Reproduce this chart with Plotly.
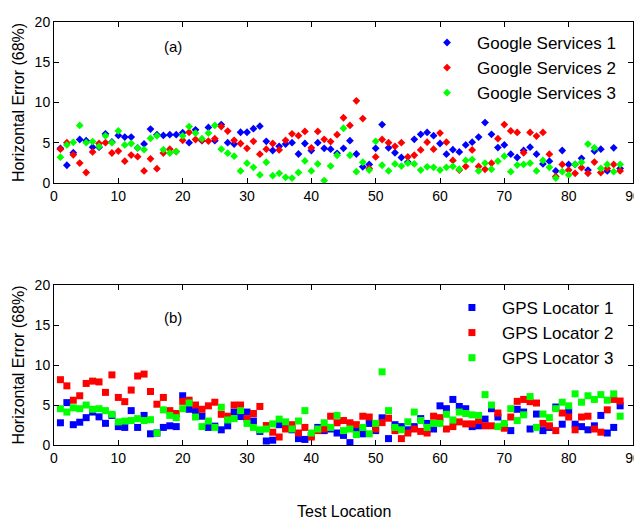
import plotly.graph_objects as go

locations = list(range(1, 89))

google_1 = [4.3, 2.2, 3.75, 5.4, 5.25, 4.45, 4.45, 6.1, 5.1, 5.9,
            5.7, 5.7, 4.35, 4.85, 6.7, 6.0, 5.9, 6.0, 6.0, 6.25,
            5.0, 6.6, 5.25, 6.9, 5.25, 7.25, 5.0, 4.83, 6.3, 6.3,
            6.75, 7.05, 5.17, 4.03, 4.55, 4.83, 5.0, 3.6, 4.9, 4.03,
            5.0, 4.3, 4.2, 3.68, 4.3, 5.25, 3.6, 2.0, 2.3, 4.3,
            7.26, 4.37, 3.75, 3.16, 2.6, 5.42, 6.04, 6.28, 5.87, 4.9,
            3.58, 4.13, 3.85, 4.72, 5.07, 5.7, 7.5, 6.04, 4.4, 4.72,
            3.58, 3.16, 4.03, 4.44, 3.58, 2.36, 2.7, 1.5, 4.03, 2.3,
            2.3, 3.06, 1.6, 3.96, 4.2, 1.5, 4.37, 1.8]
google_2 = [4.2, 5.0, 3.5, 2.47, 1.3, 3.85, 4.9, 5.0, 3.72, 3.96,
            2.7, 3.47, 3.26, 1.5, 3.0, 1.77, 3.72, 4.2, 3.9, 5.3,
            6.3, 5.4, 5.3, 5.2, 5.5, 7.0, 6.45, 5.3, 4.9, 4.3,
            5.17, 3.58, 4.2, 4.9, 4.1, 5.3, 6.1, 5.87, 6.4, 4.37,
            6.4, 5.42, 5.14, 6.0, 8.1, 7.15, 10.2, 8.0, 1.8, 3.23,
            5.4, 5.0, 4.55, 5.0, 3.23, 3.44, 4.1, 5.07, 4.2, 6.2,
            5.07, 2.8, 1.6, 2.05, 4.1, 2.05, 1.7, 2.46, 5.5, 7.26,
            6.46, 6.28, 3.75, 6.28, 5.83, 6.28, 3.58, 0.8, 2.3, 1.6,
            1.2, 1.9, 1.2, 2.6, 1.3, 1.8, 2.3, 1.5]
google_3 = [3.2, 4.72, 5.05, 7.15, 5.0, 5.14, 4.55, 5.85, 5.0, 6.46,
            4.72, 4.9, 4.35, 4.13, 5.55, 5.85, 4.13, 3.72, 3.9, 5.85,
            7.0, 6.2, 5.5, 6.2, 7.15, 4.2, 3.7, 3.33, 1.5, 2.46,
            1.94, 1.0, 2.57, 0.9, 1.2, 0.7, 0.6, 1.3, 2.74, 1.5,
            2.36, 0.3, 2.1, 3.44, 6.8, 3.44, 1.4, 2.57, 1.6, 5.17,
            2.2, 1.5, 2.36, 2.1, 2.46, 2.36, 1.6, 2.0, 1.94, 1.6,
            1.94, 2.05, 1.7, 2.8, 2.9, 1.5, 2.46, 1.7, 2.7, 3.33,
            1.4, 2.22, 2.3, 2.46, 1.5, 2.8, 1.94, 0.6, 1.4, 1.0,
            2.3, 2.57, 4.83, 4.37, 1.8, 2.3, 1.4, 2.3]

gps_1 = [2.78, 5.3, 2.54, 2.85, 3.42, 4.12, 3.52, 2.71, 3.7, 2.3,
         2.2, 4.3, 2.2, 3.7, 1.4, 1.5, 2.2, 2.4, 2.3, 6.16,
         4.47, 4.3, 3.6, 2.2, 2.36, 1.9, 2.4, 4.12, 3.56, 4.12,
         3.0, 1.7, 0.5, 0.6, 2.54, 2.3, 1.9, 0.8, 0.7, 1.2,
         2.2, 1.8, 2.0, 1.5, 1.2, 0.3, 2.0, 1.4, 2.7, 1.8,
         3.4, 0.8, 2.54, 2.3, 1.9, 2.3, 3.3, 2.7, 2.0, 4.9,
         4.54, 5.7, 4.82, 4.54, 2.3, 2.4, 3.24, 4.54, 3.5, 2.2,
         1.8, 4.47, 4.12, 2.0, 3.87, 1.8, 2.2, 4.75, 2.6, 4.3,
         2.6, 2.3, 1.9, 2.4, 3.7, 1.5, 2.2, 4.9]
gps_2 = [8.17, 7.4, 5.6, 6.16, 7.7, 7.99, 7.89, 6.58, 8.77, 5.95,
         5.42, 6.87, 8.63, 8.87, 6.69, 5.1, 5.95, 4.3, 3.94, 5.46,
         5.6, 5.0, 4.47, 4.9, 5.35, 3.84, 3.6, 5.0, 5.0, 3.3,
         3.94, 4.82, 2.43, 1.6, 1.0, 2.0, 2.54, 1.5, 2.2, 1.0,
         1.8, 2.0, 3.6, 2.78, 3.06, 2.78, 2.54, 3.6, 3.5, 2.0,
         2.8, 3.35, 1.8, 0.8, 1.5, 2.0, 1.7, 1.5, 3.6, 3.42,
         2.0, 2.3, 2.89, 2.64, 2.64, 3.06, 2.4, 2.4, 4.0, 2.1,
         3.5, 5.46, 5.7, 5.42, 5.25, 2.7, 2.4, 1.8, 4.0, 3.5,
         1.9, 3.5, 3.6, 2.0, 1.6, 4.4, 5.7, 5.5]
gps_3 = [4.54, 4.12, 4.65, 4.54, 5.0, 4.47, 4.54, 4.3, 3.84, 2.89,
         2.99, 3.06, 3.3, 3.06, 3.17, 1.5, 4.4, 3.7, 3.42, 4.54,
         5.25, 3.5, 2.3, 3.0, 2.2, 4.72, 3.13, 3.3, 4.3, 2.7,
         2.2, 1.9, 2.0, 2.64, 3.24, 2.89, 2.0, 3.0, 4.3, 1.5,
         2.0, 2.78, 2.2, 3.7, 1.8, 2.0, 1.3, 2.2, 1.4, 2.7,
         9.15, 4.3, 2.2, 1.9, 2.9, 4.12, 3.06, 2.2, 2.7, 2.7,
         3.84, 3.13, 4.12, 3.94, 3.77, 3.7, 6.3, 5.0, 2.3, 2.7,
         4.54, 3.06, 3.77, 6.06, 2.2, 3.87, 3.42, 4.54, 5.35, 4.9,
         6.4, 5.35, 6.16, 5.7, 6.3, 5.6, 6.4, 3.6]

top_names = ["Google Services 1", "Google Services 2", "Google Services 3"]
bottom_names = ["GPS Locator 1", "GPS Locator 2", "GPS Locator 3"]
colors = ["#0000FF", "#FF0000", "#00FF00"]

x_ticks = list(range(0, 91, 10))
y_ticks = list(range(0, 21, 5))

FONT = "Liberation Sans, Arial, sans-serif"

fig = go.Figure()
for name, vals, col in zip(top_names, [google_1, google_2, google_3], colors):
    fig.add_trace(go.Scatter(x=locations, y=vals, mode="markers", name=name,
                             marker=dict(symbol="diamond", size=6, color=col, line=dict(width=0)),
                             xaxis="x", yaxis="y", legend="legend"))
for name, vals, col in zip(bottom_names, [gps_1, gps_2, gps_3], colors):
    fig.add_trace(go.Scatter(x=locations, y=vals, mode="markers", name=name,
                             marker=dict(symbol="square", size=7, color=col, line=dict(width=0)),
                             xaxis="x2", yaxis="y2", legend="legend2"))

axis_common = dict(showline=True, linecolor="black", linewidth=1, mirror="ticks",
                   ticks="inside", ticklen=5, tickcolor="black", showgrid=False,
                   zeroline=False,
                   tickfont=dict(family=FONT, size=14, color="black"))

ytitle = dict(text="Horizontal Error (68%)", font=dict(family=FONT, size=16), standoff=6)

fig.update_layout(
    width=642, height=521,
    paper_bgcolor="white", plot_bgcolor="white",
    margin=dict(l=46, r=17, t=6, b=84),
    font=dict(family=FONT, size=14, color="black"),
    showlegend=True,
    xaxis=dict(domain=[0, 1], range=[0, 90], tickvals=x_ticks, anchor="y", **axis_common),
    yaxis=dict(domain=[0.6195, 1], range=[0, 20], tickvals=y_ticks, anchor="x",
               title=ytitle, **axis_common),
    xaxis2=dict(domain=[0, 1], range=[0, 90], tickvals=x_ticks, anchor="y2", **axis_common),
    yaxis2=dict(domain=[0, 0.378], range=[0, 20], tickvals=y_ticks, anchor="x2",
                title=ytitle, **axis_common),
    legend=dict(x=0.627, y=0.993, xanchor="left", yanchor="top", bgcolor="rgba(0,0,0,0)",
                font=dict(family=FONT, size=17), tracegroupgap=0, itemwidth=50),
    legend2=dict(x=0.670, y=0.3666, xanchor="left", yanchor="top", bgcolor="rgba(0,0,0,0)",
                 font=dict(family=FONT, size=17), tracegroupgap=0, itemwidth=50),
    annotations=[
        dict(text="(a)", x=18.5, y=16.9, xref="x", yref="y", showarrow=False,
             font=dict(family=FONT, size=15)),
        dict(text="(b)", x=18.5, y=16.0, xref="x2", yref="y2", showarrow=False,
             font=dict(family=FONT, size=15)),
        dict(text="Test Location", x=0.5, y=0, xref="paper", yref="paper",
             yshift=-66, yanchor="middle", showarrow=False,
             font=dict(family=FONT, size=16)),
    ],
)

fig.write_html("out.html")
